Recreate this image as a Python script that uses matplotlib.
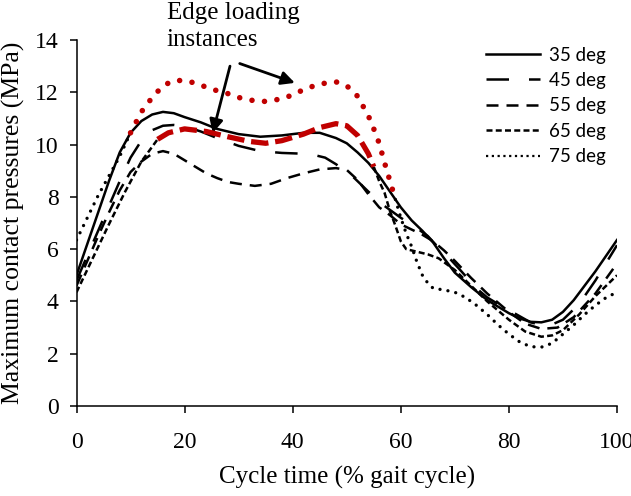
import numpy as np
import matplotlib
matplotlib.use("Agg")
import matplotlib.pyplot as plt
from matplotlib.lines import Line2D

# ---------------- data ----------------
x35 = [0,2,4,6,8,10,12,14,16,18,20,23,26,30,34,38,42,45,48,50,52,54,56,58,60,62,64,66,68,70,73,76,78,80,82,84,86,88,90,92,94,96,98,100]
y35 = [5.0,6.2,7.4,8.6,9.7,10.45,10.9,11.15,11.25,11.2,11.05,10.85,10.6,10.4,10.3,10.35,10.45,10.45,10.25,10.05,9.7,9.3,8.8,8.2,7.6,7.1,6.7,6.25,5.65,5.1,4.55,4.05,3.8,3.55,3.35,3.22,3.2,3.3,3.6,4.05,4.6,5.15,5.75,6.35]

x45 = [0,2,4,6,8,10,12,14,16,18,20,23,26,30,34,38,42,44,46,48,51,54,57,60,63,65,67,69,71,74,76,78,81,84,86,88,90,93,96,100]
y45 = [4.8,5.75,6.7,7.65,8.6,9.5,10.15,10.55,10.72,10.75,10.7,10.5,10.25,9.95,9.75,9.68,9.65,9.6,9.5,9.25,8.8,8.2,7.65,7.2,6.8,6.5,6.05,5.65,5.2,4.5,4.15,3.9,3.55,3.2,3.1,3.12,3.3,3.9,4.8,6.15]

x55 = [0,2,4,6,8,10,12,14,16,18,20,22,24,26,28,30,33,36,39,42,45,48,50,52,54,56,58,60,62,64,66,68,70,73,76,80,83,86,89,92,96,100]
y55 = [4.6,5.55,6.5,7.4,8.25,8.95,9.35,9.65,9.75,9.65,9.4,9.15,8.9,8.72,8.57,8.5,8.42,8.5,8.72,8.9,9.05,9.1,9.03,8.65,8.1,7.6,7.3,6.95,6.75,6.55,6.3,5.95,5.55,4.9,4.3,3.6,3.15,2.95,3.0,3.4,4.3,5.45]

x65 = [0,3,6,9,12,15,17,20,24,28,32,35,38,42,45,48,50,52,54,55,56,57,58,59,60,61,63,65,67,70,73,76,80,83,86,88,90,93,96,100]
y65 = [4.35,5.65,6.95,8.2,9.35,10.2,10.45,10.6,10.5,10.3,10.12,10.05,10.15,10.4,10.65,10.8,10.72,10.35,9.65,9.15,8.6,8.15,7.45,6.9,6.3,6.0,5.9,5.8,5.65,5.2,4.6,4.0,3.3,2.85,2.65,2.7,2.9,3.5,4.2,5.0]

x75 = [0,2,4,6,8,10,12,14,16,18,20,22,25,28,30,33,35,38,40,42,44,46,48,50,52,54,55,56,57,58,59,60,61,62,63,64,65,66,68,70,72,74,76,78,80,82,84,86,88,90,92,94,96,98,100]
y75 = [6.35,7.2,8.05,8.8,9.55,10.45,11.25,11.8,12.25,12.45,12.45,12.35,12.12,11.95,11.8,11.67,11.65,11.75,11.9,12.1,12.25,12.35,12.4,12.25,11.85,11.1,10.6,10.05,9.3,8.6,7.9,7.2,6.6,6.1,5.5,5.0,4.7,4.5,4.44,4.35,4.15,3.85,3.5,3.1,2.75,2.45,2.27,2.25,2.4,2.75,3.1,3.5,3.85,4.15,4.35]

labels = ["35 deg", "45 deg", "55 deg", "65 deg", "75 deg"]
edge65 = (15, 55)   # edge-loading range highlighted on 65 deg
edge75 = (10, 59)   # edge-loading range highlighted on 75 deg
xticks = [0, 20, 40, 60, 80, 100]
yticks = [0, 2, 4, 6, 8, 10, 12, 14]

# ---------------- figure ----------------
fig = plt.figure(figsize=(6.31, 4.96), dpi=100)
ax = fig.add_axes([76.5/631, 1-406/496, (617-76.5)/631, (406-40)/496])

serif = "Liberation Serif"
lw = 1.8
LS45 = (0, (9.0, 8.0))
LS55 = (0, (4.8, 3.2))
LS65 = (0, (2.4, 1.3))

def seg(x, y, lo, hi, inside):
    x = np.asarray(x, float); y = np.asarray(y, float).copy()
    if inside:
        m = (x >= lo) & (x <= hi)
    else:
        m = (x <= lo) | (x >= hi)
    y[~m] = np.nan
    return x, y

ax.plot(x35, y35, color="black", lw=lw, ls="-")
ax.plot(x45, y45, color="black", lw=lw, ls=LS45)
ax.plot(x55, y55, color="black", lw=lw, ls=LS55)
bx, by = seg(x65, y65, *edge65, inside=False)
ax.plot(bx, by, color="black", lw=lw, ls=LS65)
bx, by = seg(x75, y75, *edge75, inside=False)
ax.plot(bx, by, color="black", lw=2.4, ls=(0, (0.01, 2.4)), dash_capstyle="round")

# edge loading highlights
rx, ry = seg(x65, y65, *edge65, inside=True)
ax.plot(rx, ry, color="#C00000", lw=3.8, ls=(0, (3.3, 1.3)), zorder=4)
rx, ry = seg(x75, y75, *edge75, inside=True)
ax.plot(rx, ry, color="#C00000", lw=4.0, ls=(0, (0.01, 2.25)), dash_capstyle="round", zorder=4)

ax.set_xlim(0, 100)
ax.set_ylim(0, 14)
ax.set_xticks(xticks)
ax.set_yticks(yticks)
for s in ["top", "right"]:
    ax.spines[s].set_visible(False)
for s in ["left", "bottom"]:
    ax.spines[s].set_linewidth(1.1)
ax.tick_params(direction="out", length=5, width=1.1, labelsize=17)
ax.tick_params(axis="x", pad=14)
ax.tick_params(axis="y", pad=8)
for t in ax.get_xticklabels() + ax.get_yticklabels():
    t.set_fontfamily(serif)
ax.set_xlabel("Cycle time (% gait cycle)", fontsize=18, fontfamily=serif, labelpad=9)
ax.set_ylabel("Maximum contact pressures (MPa)", fontsize=18.5, fontfamily=serif, labelpad=7)

# legend
handles = [
    Line2D([], [], color="black", lw=lw, ls="-"),
    Line2D([], [], color="black", lw=lw, ls=LS45),
    Line2D([], [], color="black", lw=lw, ls=LS55),
    Line2D([], [], color="black", lw=lw, ls=LS65),
    Line2D([], [], color="black", lw=1.6, ls=(0, (1.0, 1.6))),
]
leg = ax.legend(handles, labels, loc="upper left", bbox_to_anchor=(0.745, 1.0),
                frameon=False, prop={"family": "Lato", "size": 13.5},
                handlelength=2.9, handletextpad=0.45, labelspacing=0.45,
                borderaxespad=0.0, borderpad=0.35)

# annotation
ax.text(16.7, 15.45, "Edge loading\ninstances", fontsize=18, fontfamily=serif,
        ha="left", va="top", linespacing=1.3, clip_on=False)
arrow = dict(arrowstyle="-|>", color="black", lw=2.0, mutation_scale=20,
             shrinkA=0, shrinkB=0)
ax.annotate("", xy=(25.2, 10.44), xytext=(28.4, 13.0), arrowprops=arrow,
            annotation_clip=False)
ax.annotate("", xy=(40.4, 12.36), xytext=(30.2, 13.1), arrowprops=arrow,
            annotation_clip=False)

fig.savefig("out.png", dpi=100)
